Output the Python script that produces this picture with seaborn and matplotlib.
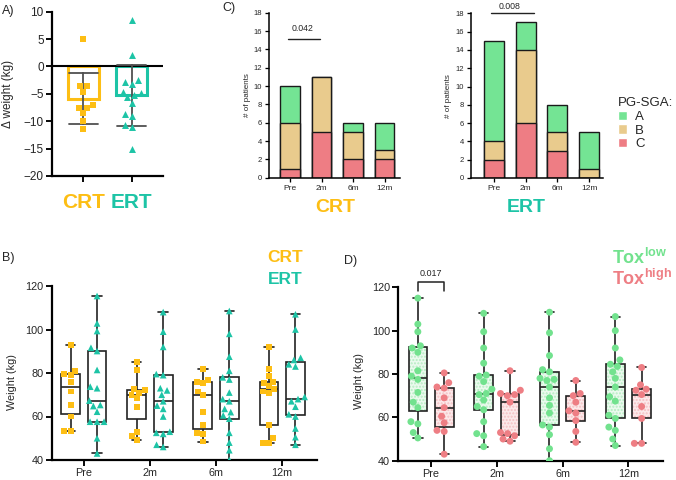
import numpy as np
import pandas as pd
import matplotlib
matplotlib.use("Agg")
import matplotlib.pyplot as plt
from matplotlib.patches import Patch
from matplotlib.colors import to_rgba
import seaborn as sns

# ---------------- data ----------------
# Panel A: change in weight (kg)
a_crt = [5.0, -3.6, -3.6, -4.6, -7.0, -7.5, -7.6, -8.5, -10.0, -11.5]
a_ert = [8.4, 2.1, -2.5, -2.8, -3.2, -4.6, -4.9, -5.2, -5.6, -6.6, -8.6, -9.0, -10.6, -11.0, -15.1]

# Panel C: PG-SGA counts
times = ["Pre", "2m", "6m", "12m"]
crt_A = [4, 0, 1, 3]
crt_B = [5, 6, 3, 1]
crt_C = [1, 5, 2, 2]
ert_A = [11, 3, 3, 4]
ert_B = [2, 8, 2, 1]
ert_C = [2, 6, 3, 0]

# Panel B: weight by arm
crt_pre = [93, 81, 79.5, 79, 76, 71.5, 65.5, 60, 53.5, 53.5]
ert_pre = [115.4, 102.8, 99.3, 91.6, 90.1, 81.4, 73.7, 73, 67.3, 65.3, 64.8, 62.2, 57.6, 57.6, 57.6, 50, 43]
crt_2m = [85, 81.5, 72.5, 72, 71, 70, 68.5, 64.5, 53, 51, 49]
ert_2m = [108, 99, 92, 79.5, 79, 73, 72, 70, 67, 65, 63.5, 60, 53, 52.5, 52, 47, 46]
crt_6m = [82, 77, 76, 75.5, 71.5, 70, 62, 56, 52.5, 52, 48.5]
ert_6m = [108.5, 98, 87.5, 81, 78, 77, 71, 68, 67, 63.5, 62, 60.5, 59, 52.5, 48, 44.5, 40]
crt_12m = [92, 82, 78.5, 76, 75.5, 74, 72.5, 71.5, 71, 56, 50, 48, 48]
ert_12m = [107, 100, 87, 86, 84, 83, 69, 68, 67, 64.5, 61, 60, 54.5, 50.5, 47]

# Panel D: weight by toxicity
low_pre = [115, 103, 99.5, 93, 92, 90, 81.5, 79, 77.5, 71.5, 67, 64.5, 58, 57, 53, 50.5]
high_pre = [80.5, 76, 74, 73.5, 69, 64.5, 60.5, 57.5, 54, 53.5, 43]
low_2m = [108, 99.5, 92, 85, 79.5, 79, 76.5, 73, 71, 70.5, 68, 65, 63.5, 58, 52.5, 51.5, 46.5]
high_2m = [81.5, 72.5, 71, 70.5, 70, 67, 53, 52.5, 51.5, 50, 49]
low_6m = [108.5, 99, 88.5, 82, 81, 78, 77.5, 77, 74, 69, 65.5, 62, 56.5, 55.5, 52, 45.5, 40]
high_6m = [77, 71, 70, 67, 63, 62, 58.5, 53.5, 48.5]
low_12m = [106.5, 100, 92, 86.5, 84.5, 83.5, 81, 78, 74, 69.5, 67.5, 61, 59.5, 55.5, 54, 50, 47]
high_12m = [83, 75, 73, 72.5, 70.5, 65, 59.5, 48, 48]

# ---------------- style ----------------
sns.set_style("ticks")
plt.rcParams["font.family"] = ["Liberation Sans", "DejaVu Sans"]
plt.rcParams["mathtext.fontset"] = "custom"
plt.rcParams["mathtext.rm"] = "Liberation Sans"
plt.rcParams["mathtext.bf"] = "Liberation Sans:bold"

ORANGE = "#FDBE14"
TEAL = "#1DC4A6"
GA = "#74E494"
GB = "#E9CB8D"
GC = "#EE7D84"
TLOW = "#72E28E"
THIGH = "#EE7E84"

W, H = 676, 480
fig = plt.figure(figsize=(W / 100, H / 100), dpi=100)


def add_ax(x0, y0, x1, y1):
    return fig.add_axes([x0 / W, 1 - y1 / H, (x1 - x0) / W, (y1 - y0) / H])


def style_ax(ax, lw=1.5, tl=4, fs=8):
    for s in ["top", "right"]:
        ax.spines[s].set_visible(False)
    for s in ["left", "bottom"]:
        ax.spines[s].set_linewidth(lw)
        ax.spines[s].set_color("black")
    ax.tick_params(axis="both", direction="out", length=tl, width=lw * 0.85,
                   color="black", labelsize=fs, pad=2)


# ---------------- Panel A ----------------
axA = add_ax(52, 11.7, 163, 176)
dfA = pd.DataFrame({"arm": ["CRT"] * len(a_crt) + ["ERT"] * len(a_ert),
                    "val": a_crt + a_ert})
sns.barplot(data=dfA, x="arm", y="val", hue="arm", order=["CRT", "ERT"],
            palette={"CRT": ORANGE, "ERT": TEAL}, saturation=1, fill=False,
            linewidth=2.2, width=0.64, errorbar="sd", capsize=0.6,
            err_kws={"color": "#505050", "linewidth": 1.3}, legend=False, ax=axA)
sns.swarmplot(data=dfA[dfA.arm == "CRT"], x="arm", y="val", order=["CRT", "ERT"],
              color=ORANGE, marker="s", size=4.6, ax=axA)
sns.swarmplot(data=dfA[dfA.arm == "ERT"], x="arm", y="val", order=["CRT", "ERT"],
              color=TEAL, marker="^", size=5, ax=axA)
axA.axhline(0, color="black", lw=1.5, zorder=1)
axA.set_ylim(-20, 10)
axA.set_xlim(-0.65, 1.65)
axA.set_yticks([-20, -15, -10, -5, 0, 5, 10])
style_ax(axA, lw=1.6, fs=8.5)
axA.set_xlabel("")
axA.set_ylabel("Δ weight (kg)", fontsize=8.5)
axA.yaxis.set_label_coords(-0.34, 0.5)
axA.tick_params(axis="x", labelsize=15, pad=8)
for lab, col in zip(axA.get_xticklabels(), [ORANGE, TEAL]):
    lab.set_color(col)
    lab.set_fontweight("bold")

# ---------------- Panel C ----------------
def stacked(ax, A, B, C, xl, xr):
    tot = [a + b + c for a, b, c in zip(A, B, C)]
    bc = [b + c for b, c in zip(B, C)]
    for vals, col in [(tot, GA), (bc, GB), (C, GC)]:
        sns.barplot(x=times, y=vals, order=times, color=col, saturation=1,
                    width=0.63, edgecolor="#1a1a1a", linewidth=1.0, ax=ax)
    ax.set_ylim(0, 18)
    ax.set_xlim(xl, xr)
    ax.set_yticks(range(0, 19, 2))
    style_ax(ax, lw=1.1, tl=3, fs=5.5)
    ax.tick_params(axis="x", labelsize=6)
    ax.set_ylabel("# of patients", fontsize=5.8, labelpad=2)


axC1 = add_ax(269, 12.7, 400, 177.7)
stacked(axC1, crt_A, crt_B, crt_C, -0.667, 3.49)
axC1.plot([-0.06, 0.95], [15.1, 15.1], color="#222222", lw=1.0)
axC1.text(0.41, 16.3, "0.042", ha="center", va="center", fontsize=6.3)

axC2 = add_ax(470.7, 13.3, 603, 178)
stacked(axC2, ert_A, ert_B, ert_C, -0.735, 3.44)
axC2.plot([-0.1, 1.26], [18, 18], color="#222222", lw=1.0, clip_on=False)
axC2.text(0.5, 18.75, "0.008", ha="center", va="center", fontsize=6.3)

fig.text(335 / W, 1 - 208 / H, "CRT", color=ORANGE, fontsize=14,
         fontweight="bold", ha="center", va="center")
fig.text(526 / W, 1 - 208 / H, "ERT", color=TEAL, fontsize=14,
         fontweight="bold", ha="center", va="center")

fig.legend(handles=[Patch(facecolor=GA), Patch(facecolor=GB), Patch(facecolor=GC)],
           labels=["A", "B", "C"], title="PG-SGA:", loc="upper left",
           bbox_to_anchor=(618 / W, 1 - 97 / H), frameon=False, fontsize=9.5,
           title_fontsize=9.5, handlelength=0.7, handleheight=0.7,
           handletextpad=0.6, labelspacing=0.12, alignment="left",
           borderpad=0.0, borderaxespad=0.0)

# ---------------- Panel B ----------------
def long_df(groups, labels, hues):
    rows = []
    for vals, t, h in zip(groups, labels, hues):
        rows += [{"time": t, "grp": h, "w": v} for v in vals]
    return pd.DataFrame(rows)


dfB = long_df([crt_pre, ert_pre, crt_2m, ert_2m, crt_6m, ert_6m, crt_12m, ert_12m],
              ["Pre", "Pre", "2m", "2m", "6m", "6m", "12m", "12m"],
              ["CRT", "ERT"] * 4)
axB = add_ax(51.7, 286, 317, 460)
sns.boxplot(data=dfB, x="time", y="w", hue="grp", order=times,
            hue_order=["CRT", "ERT"], palette={"CRT": "white", "ERT": "white"},
            linecolor="#222222", linewidth=1.2, whis=(0, 100), showfliers=False,
            width=0.8, gap=0.29, legend=False, ax=axB)
sns.swarmplot(data=dfB[dfB.grp == "CRT"], x="time", y="w", hue="grp", order=times,
              hue_order=["CRT", "ERT"], palette={"CRT": ORANGE, "ERT": TEAL},
              dodge=True, marker="s", size=4.3, legend=False, ax=axB)
sns.swarmplot(data=dfB[dfB.grp == "ERT"], x="time", y="w", hue="grp", order=times,
              hue_order=["CRT", "ERT"], palette={"CRT": ORANGE, "ERT": TEAL},
              dodge=True, marker="^", size=4.8, legend=False, ax=axB)
axB.set_ylim(40, 120)
axB.set_xlim(-0.486, 3.526)
axB.set_yticks([40, 60, 80, 100, 120])
style_ax(axB, lw=1.6, fs=7.8)
axB.set_xlabel("")
axB.set_ylabel("Weight (kg)", fontsize=7.8)
axB.yaxis.set_label_coords(-0.13, 0.45)
fig.text(285 / W, 1 - 258 / H, "CRT", color=ORANGE, fontsize=12.5,
         fontweight="bold", ha="center", va="center")
fig.text(285 / W, 1 - 279 / H, "ERT", color=TEAL, fontsize=12.5,
         fontweight="bold", ha="center", va="center")

# ---------------- Panel D ----------------
dfD = long_df([low_pre, high_pre, low_2m, high_2m, low_6m, high_6m, low_12m, high_12m],
              ["Pre", "Pre", "2m", "2m", "6m", "6m", "12m", "12m"],
              ["low", "high"] * 4)
axD = add_ax(398.3, 287.3, 662.7, 460.7)
sns.boxplot(data=dfD, x="time", y="w", hue="grp", order=times,
            hue_order=["low", "high"], palette={"low": "#EBFAEE", "high": "#FCE9EA"},
            saturation=1, linecolor="#222222", linewidth=1.2, whis=(0, 100),
            showfliers=False, width=0.8, gap=0.29, legend=False, ax=axD)
hatch_cols = [to_rgba("#B5EDC2"), to_rgba("#F5C0C3")]
for i, p in enumerate(axD.patches):
    try:
        p.set_hatch(".....")
        p._hatch_color = hatch_cols[0] if (i // 4) == 0 else hatch_cols[1]
    except Exception:
        pass
sns.swarmplot(data=dfD, x="time", y="w", hue="grp", order=times,
              hue_order=["low", "high"], palette={"low": TLOW, "high": THIGH},
              dodge=True, marker="o", size=5, legend=False, ax=axD)
axD.set_ylim(40, 120)
axD.set_xlim(-0.497, 3.52)
axD.set_yticks([40, 60, 80, 100, 120])
style_ax(axD, lw=1.6, fs=7.8)
axD.set_xlabel("")
axD.set_ylabel("Weight (kg)", fontsize=7.8)
axD.yaxis.set_label_coords(-0.13, 0.46)
axD.plot([-0.2, -0.2, 0.2, 0.2], [118.4, 122.3, 122.3, 118.4], color="#222222",
         lw=1.1, clip_on=False)
axD.text(0.0, 124.5, "0.017", ha="center", va="bottom", fontsize=6.5)
fig.text(612 / W, 1 - 258 / H, r"Tox$^{\mathbf{low}}$", color=TLOW, fontsize=13,
         fontweight="bold", ha="left", va="center")
fig.text(612 / W, 1 - 279 / H, r"Tox$^{\mathbf{high}}$", color=THIGH, fontsize=13,
         fontweight="bold", ha="left", va="center")

# ---------------- panel letters ----------------
fig.text(2 / W, 1 - 11 / H, "A)", fontsize=9, va="center", ha="left")
fig.text(222 / W, 1 - 8 / H, "C)", fontsize=9, va="center", ha="left")
fig.text(2 / W, 1 - 258 / H, "B)", fontsize=9, va="center", ha="left")
fig.text(344 / W, 1 - 261 / H, "D)", fontsize=9, va="center", ha="left")

fig.savefig("out.png", dpi=100)
